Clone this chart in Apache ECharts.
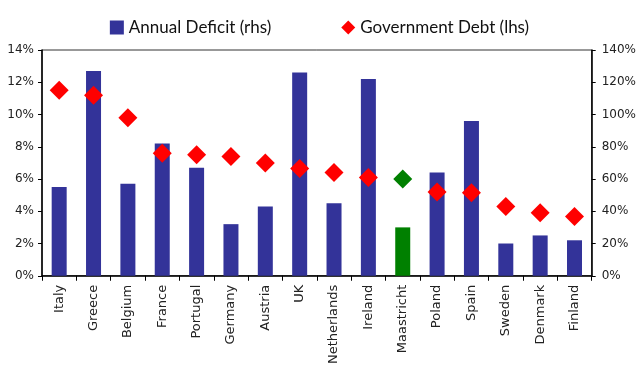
<!DOCTYPE html>
<html lang="en">
<head>
<meta charset="UTF-8">
<title>Deficit and Debt</title>
<script src="https://cdn.jsdelivr.net/npm/echarts@6/dist/echarts.min.js"></script>
<style>
  html, body { margin: 0; padding: 0; background: #fff; }
  #chart { width: 639px; height: 367px; }
</style>
</head>
<body>
<div id="chart"></div>
<script>
// countries, plus the Maastricht reference column
const countries = ['Italy', 'Greece', 'Belgium', 'France', 'Portugal', 'Germany', 'Austria', 'UK',
  'Netherlands', 'Ireland', 'Maastricht', 'Poland', 'Spain', 'Sweden', 'Denmark', 'Finland'];
// annual deficit, % (bars, drawn on the left scale)
const deficit = [5.5, 12.7, 5.7, 8.2, 6.7, 3.2, 4.3, 12.6, 4.5, 12.2, 3.0, 6.4, 9.6, 2.0, 2.5, 2.2];
// government debt, % (diamonds, drawn on the right scale)
const debt = [115, 112, 98, 76, 75, 74, 70, 66.5, 64, 61, 60, 52, 51.5, 43, 39, 36.7];
const leftTicks = [0, 2, 4, 6, 8, 10, 12, 14];
const rightTicks = [0, 20, 40, 60, 80, 100, 120, 140];

const ref = 'Maastricht';
const blue = '#333399', red = '#ff0000', green = '#008000';
const font = 'Lato, "DejaVu Sans", sans-serif';
const labelFont = '"DejaVu Sans", sans-serif';

let chart = echarts.init(document.getElementById('chart'));

const axisCommon = {
  type: 'value',
  splitLine: { show: false },
  axisLine: { show: true, lineStyle: { color: '#000', width: 1.5 } },
  axisTick: { show: true, length: 4, lineStyle: { color: '#000' } }
};

chart.setOption({
  animation: false,
  textStyle: { fontFamily: font },
  legend: {
    top: 14,
    left: 'center',
    itemGap: 70,
    itemWidth: 14,
    itemHeight: 14,
    textStyle: { fontSize: 17, color: '#111', fontFamily: font },
    data: [
      { name: 'Annual Deficit (rhs)', icon: 'rect' },
      { name: 'Government Debt (lhs)', icon: 'diamond' }
    ]
  },
  grid: {
    left: 42, right: 42, top: 50, bottom: 91,
    show: true, borderColor: '#333', borderWidth: 1
  },
  xAxis: {
    type: 'category',
    data: countries,
    axisLine: { lineStyle: { color: '#000', width: 1.5 } },
    axisTick: { show: true, length: 5, alignWithLabel: false, lineStyle: { color: '#000' } },
    axisLabel: { rotate: 90, interval: 0, color: '#222', fontSize: 13, fontFamily: labelFont, margin: 9 }
  },
  yAxis: [
    Object.assign({}, axisCommon, {
      position: 'left', min: leftTicks[0], max: leftTicks[leftTicks.length - 1], interval: 2,
      axisLabel: { color: '#222', fontSize: 12, fontFamily: labelFont, formatter: '{value}%', margin: 8 }
    }),
    Object.assign({}, axisCommon, {
      position: 'right', min: rightTicks[0], max: rightTicks[rightTicks.length - 1], interval: 20,
      axisLabel: { color: '#222', fontSize: 12, fontFamily: labelFont, formatter: '{value}%', margin: 10 }
    })
  ],
  series: [
    {
      name: 'Annual Deficit (rhs)',
      type: 'bar',
      yAxisIndex: 0,
      barWidth: 15,
      itemStyle: { color: blue },
      data: deficit.map((v, i) => countries[i] === ref
        ? { value: v, itemStyle: { color: green } } : v)
    },
    {
      name: 'Government Debt (lhs)',
      type: 'scatter',
      yAxisIndex: 1,
      symbol: 'diamond',
      symbolSize: 19,
      itemStyle: { color: red, opacity: 1 },
      z: 3,
      data: debt.map((v, i) => countries[i] === ref
        ? { value: v, itemStyle: { color: green, opacity: 1 } } : v)
    }
  ]
});
</script>
</body>
</html>
